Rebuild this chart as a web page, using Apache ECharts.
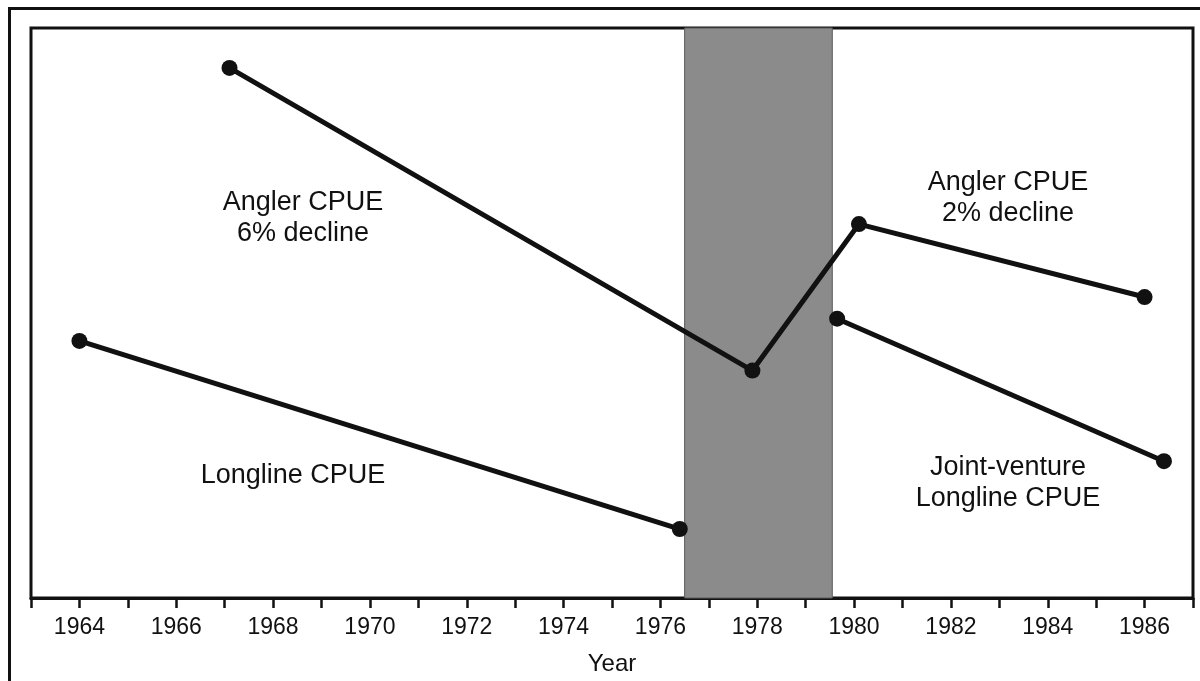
<!DOCTYPE html>
<html>
<head>
<meta charset="utf-8">
<script src="https://cdn.jsdelivr.net/npm/echarts@6/dist/echarts.min.js"></script>
<style>
html,body{margin:0;padding:0;background:#fff;}
#c{width:1200px;height:681px;}
</style>
</head>
<body>
<div id="c"></div>
<script>
// Data (years, relative CPUE index; y axis is unlabelled in the original)
const anglerYears = [1967.1, 1977.9, 1980.1, 1986.0];
const anglerValues = [93.0, 39.9, 65.6, 52.8];
const longlineYears = [1964.0, 1976.4];
const longlineValues = [45.1, 12.1];
const jointYears = [1979.65, 1986.4];
const jointValues = [49.0, 24.0];
const bandRange = [1976.5, 1979.55];
const tickYears = [1964, 1966, 1968, 1970, 1972, 1974, 1976, 1978, 1980, 1982, 1984, 1986];

const pair = (xs, ys) => xs.map((x, i) => [x, ys[i]]);
const FONT = "'Liberation Sans', Arial, sans-serif";
const INK = '#111111';

const chart = echarts.init(document.getElementById('c'), null, {renderer: 'canvas'});

const lineSeries = (name, data, extra) => Object.assign({
  name: name,
  type: 'line',
  data: data,
  symbol: 'circle',
  symbolSize: 16,
  itemStyle: {color: INK},
  lineStyle: {color: INK, width: 5},
  z: 5,
  animation: false
}, extra || {});

chart.setOption({
  animation: false,
  backgroundColor: '#fff',
  grid: {
    left: 31, right: 7, top: 28, bottom: 81,
    show: true, borderColor: INK, borderWidth: 3, backgroundColor: 'transparent'
  },
  xAxis: {
    type: 'value',
    min: 1963, max: 1987, interval: 1,
    name: 'Year', nameLocation: 'middle', nameGap: 54,
    nameTextStyle: {fontFamily: FONT, fontSize: 24, color: INK},
    axisLine: {show: true, lineStyle: {color: INK, width: 3}},
    axisTick: {show: true, inside: false, length: 10, lineStyle: {color: INK, width: 2.5}},
    axisLabel: {
      fontFamily: FONT, fontSize: 23, color: INK, margin: 18,
      formatter: v => tickYears.indexOf(v) >= 0 ? String(v) : ''
    },
    splitLine: {show: false}
  },
  yAxis: {
    type: 'value', min: 0, max: 100,
    axisLine: {show: false}, axisTick: {show: false}, axisLabel: {show: false},
    splitLine: {show: false}
  },
  series: [
    lineSeries('Angler CPUE', pair(anglerYears, anglerValues), {
      markArea: {
        silent: true,
        itemStyle: {color: '#8b8b8b', borderColor: '#5a5a5a', borderWidth: 1},
        data: [[{xAxis: bandRange[0]}, {xAxis: bandRange[1]}]]
      }
    }),
    lineSeries('Longline CPUE', pair(longlineYears, longlineValues)),
    lineSeries('Joint-venture Longline CPUE', pair(jointYears, jointValues))
  ],
  graphic: [
    {type: 'rect', left: 7, top: 6, shape: {width: 1210, height: 700},
     style: {fill: null, stroke: INK, lineWidth: 3}, silent: true, z: 100},
    {type: 'text', x: 303, y: 218, style: {text: 'Angler CPUE\n6% decline', font: '27px ' + FONT,
      fill: INK, textAlign: 'center', textVerticalAlign: 'middle', lineHeight: 31}},
    {type: 'text', x: 1008, y: 198, style: {text: 'Angler CPUE\n2% decline', font: '27px ' + FONT,
      fill: INK, textAlign: 'center', textVerticalAlign: 'middle', lineHeight: 31}},
    {type: 'text', x: 1008, y: 483, style: {text: 'Joint-venture\nLongline CPUE', font: '27px ' + FONT,
      fill: INK, textAlign: 'center', textVerticalAlign: 'middle', lineHeight: 31}},
    {type: 'text', x: 293, y: 476, style: {text: 'Longline CPUE', font: '27px ' + FONT,
      fill: INK, textAlign: 'center', textVerticalAlign: 'middle'}}
  ]
});
</script>
</body>
</html>
